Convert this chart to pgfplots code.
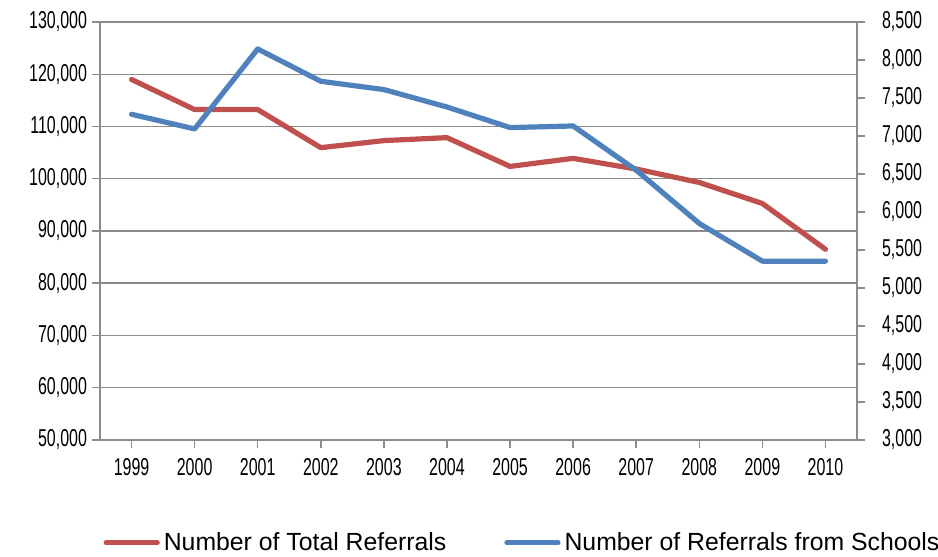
\documentclass[border=0pt]{standalone}
\usepackage{fontspec}
\setmainfont{Liberation Sans}
\newfontfamily\condfont{Liberation Sans}[FakeStretch=0.655]
\usepackage{pgfplots}
\pgfplotsset{compat=1.18}
\definecolor{redS}{HTML}{C0504D}
\definecolor{blueS}{HTML}{4F81BD}
\definecolor{gridc}{HTML}{8C8C8C}
\pgfplotsset{
  common/.style={
    scale only axis, width=378.5pt, height=209pt,
    xmin=-0.5, xmax=11.5,
    scaled y ticks=false,
    tick align=outside,
    tick style={gridc, line width=0.75pt},
    axis line style={gridc, line width=0.75pt},
    major tick length=4pt,
    every tick label/.append style={font=\condfont\fontsize{12.2}{13}\selectfont, text=black},
  }
}
\begin{document}
\begin{tikzpicture}
\begin{axis}[common, name=ax,
  ymin=50000, ymax=130000,
  ytick={50000,60000,70000,80000,90000,100000,110000,120000,130000},
  yticklabels={{50,000},{60,000},{70,000},{80,000},{90,000},{100,000},{110,000},{120,000},{130,000}},
  yticklabel style={xshift=1pt},
  xtick={0,...,11},
  xticklabels={1999,2000,2001,2002,2003,2004,2005,2006,2007,2008,2009,2010},
  xticklabel style={yshift=-1.5pt},
  ymajorgrids, grid style={gridc, line width=0.75pt},
  axis x line*=bottom, axis y line*=left,
]
\addplot[redS, line width=2.6pt, line cap=round, line join=round] coordinates {
(0,119000) (1,113240) (2,113240) (3,105950) (4,107300) (5,107870)
(6,102360) (7,103900) (8,101860) (9,99290) (10,95260) (11,86500)};
\end{axis}
\begin{axis}[common,
  ymin=3000, ymax=8500,
  ytick={3000,3500,4000,4500,5000,5500,6000,6500,7000,7500,8000,8500},
  yticklabels={{3,000},{3,500},{4,000},{4,500},{5,000},{5,500},{6,000},{6,500},{7,000},{7,500},{8,000},{8,500}},
  axis y line*=right, axis x line=none,
  yticklabel style={xshift=5pt},
  legend columns=2,
  legend style={draw=none, at={(0.5595,-0.246)}, anchor=center,
    font=\fontsize{12.4}{14}\selectfont,
    /tikz/every even column/.append style={column sep=27pt}},
  legend image code/.code={\draw[#1, line cap=round] (0pt,0pt) -- (25.5pt,0pt);},
]
\addlegendimage{redS, line width=2.6pt}
\addlegendentry{Number of Total Referrals}
\addplot[blueS, line width=2.6pt, line cap=round, line join=round] coordinates {
(0,7286) (1,7093) (2,8145) (3,7720) (4,7611) (5,7382)
(6,7111) (7,7132) (8,6550) (9,5849) (10,5353) (11,5353)};
\addlegendentry{Number of Referrals from Schools}
\end{axis}
\pgfresetboundingbox
\path ([xshift=-50pt, yshift=-58.5pt]ax.south west) rectangle ([xshift=40.5pt, yshift=11pt]ax.north east);
\end{tikzpicture}
\end{document}
